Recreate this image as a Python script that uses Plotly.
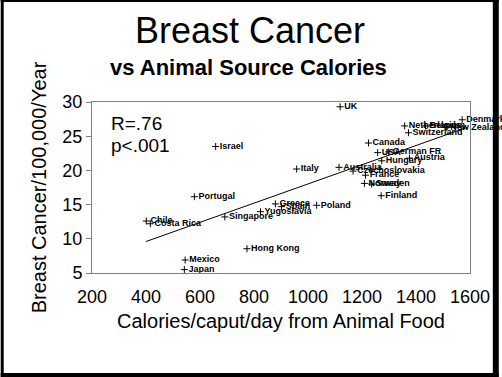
import plotly.graph_objects as go

countries = ["UK", "Denmark", "Netherlands", "Belgium", "New Zealand", "Switzerland",
             "Canada", "USA", "German FR", "Austria", "Hungary", "Australia",
             "Czechoslovakia", "France", "Italy", "Norway", "Sweden", "Finland",
             "Israel", "Portugal", "Greece", "Spain", "Poland", "Yugoslavia",
             "Singapore", "Chile", "Costa Rica", "Hong Kong", "Mexico", "Japan"]
calories = [1119, 1571, 1358, 1435, 1512, 1372,
            1224, 1258, 1299, 1376, 1273, 1115,
            1167, 1213, 958, 1209, 1236, 1271,
            658, 579, 879, 902, 1032, 824,
            692, 401, 416, 774, 545, 542]
incidence = [29.3, 27.4, 26.5, 26.5, 26.3, 25.5,
             24.0, 22.6, 22.7, 21.8, 21.4, 20.45,
             19.9, 19.3, 20.2, 18.1, 18.0, 16.3,
             23.5, 16.15, 15.1, 14.7, 14.9, 13.96,
             13.2, 12.6, 12.2, 8.55, 6.9, 5.5]
fit_x = [400, 1590]
fit_y = [9.6, 26.3]
x_ticks = [200, 400, 600, 800, 1000, 1200, 1400, 1600]
y_ticks = [5, 10, 15, 20, 25, 30]

W, H = 502, 377
L, R, T, B = 92, 473, 102, 273


def px(xp):
    return (xp - L) / (R - L)


def py(yp):
    return (B - yp) / (B - T)


fig = go.Figure()
fig.add_trace(go.Scatter(
    x=fit_x, y=fit_y, mode="lines",
    line=dict(color="black", width=1), showlegend=False, hoverinfo="skip"))
fig.add_trace(go.Scatter(
    x=calories, y=incidence, mode="markers+text", text=countries,
    textposition="middle right",
    textfont=dict(family="Arial, Liberation Sans", size=9, color="black", weight="bold"),
    marker=dict(symbol="cross-thin", size=5, line=dict(color="black", width=1)),
    showlegend=False, cliponaxis=False))

font = "Arial, Liberation Sans, sans-serif"
fig.update_layout(
    width=W, height=H,
    margin=dict(l=L, r=W - R, t=T, b=H - B),
    paper_bgcolor="white", plot_bgcolor="white",
    font=dict(family=font, color="black"),
    xaxis=dict(range=[200, 1600], tickvals=x_ticks, showgrid=False, zeroline=False,
               showline=True, linecolor="#808080", linewidth=1, mirror=True,
               ticks="", ticklabelstandoff=7,
               tickfont=dict(size=18, family=font, color="black"),
               title=dict(text="Calories/caput/day from Animal Food",
                          font=dict(size=20, family=font, color="black"), standoff=8)),
    yaxis=dict(range=[5, 30], tickvals=y_ticks, showgrid=False, zeroline=False,
               showline=True, linecolor="#808080", linewidth=1, mirror=True,
               ticks="outside", ticklen=5, tickcolor="#808080",
               tickfont=dict(size=18, family=font, color="black"),
               title=dict(text="Breast Cancer/100,000/Year",
                          font=dict(size=20, family=font, color="black"), standoff=10)),
    annotations=[
        dict(text="Breast Cancer", xref="paper", yref="paper", x=px(251), y=py(30),
             xanchor="center", yanchor="middle", showarrow=False,
             font=dict(size=36, family=font, color="black")),
        dict(text="<b>vs Animal Source Calories</b>", xref="paper", yref="paper",
             x=px(250), y=py(68), xanchor="center", yanchor="middle", showarrow=False,
             font=dict(size=22, family=font, color="black")),
        dict(text="R=.76", xref="paper", yref="paper", x=px(109), y=py(123),
             xanchor="left", yanchor="middle", showarrow=False,
             font=dict(size=19, family=font, color="black")),
        dict(text="p<.001", xref="paper", yref="paper", x=px(109), y=py(145),
             xanchor="left", yanchor="middle", showarrow=False,
             font=dict(size=19, family=font, color="black")),
    ],
    shapes=[
        dict(type="rect", xref="paper", yref="paper", x0=px(0), x1=px(3), y0=py(0), y1=py(H),
             fillcolor="black", line=dict(width=0), layer="above"),
        dict(type="rect", xref="paper", yref="paper", x0=px(496), x1=px(W), y0=py(0), y1=py(H),
             fillcolor="black", line=dict(width=0), layer="above"),
        dict(type="rect", xref="paper", yref="paper", x0=px(0), x1=px(W), y0=py(0), y1=py(2),
             fillcolor="black", line=dict(width=0), layer="above"),
        dict(type="rect", xref="paper", yref="paper", x0=px(0), x1=px(W), y0=py(373), y1=py(H),
             fillcolor="black", line=dict(width=0), layer="above"),
    ],
)

fig.write_html("out.html", config={"displayModeBar": False},
               post_script="document.body.style.margin='0';document.body.style.overflow='hidden';")
